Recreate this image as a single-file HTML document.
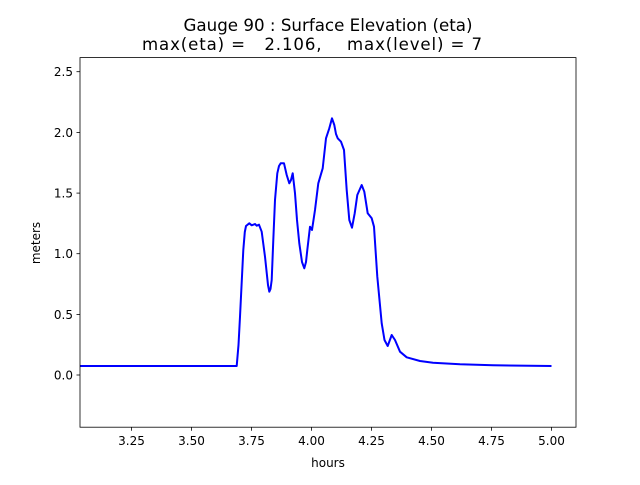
<!DOCTYPE html>
<html><head><meta charset="utf-8"><style>
body{margin:0;background:#fff}
svg text{font-family:"DejaVu Sans","Liberation Sans",sans-serif;fill:#000}
</style></head><body>
<svg width="640" height="480" viewBox="0 0 640 480" xmlns="http://www.w3.org/2000/svg">
<rect width="640" height="480" fill="#fff"/>
<text x="328" y="31" font-size="16.6" text-anchor="middle" textLength="289" lengthAdjust="spacingAndGlyphs">Gauge 90 : Surface Elevation (eta)</text>
<text x="312" y="50" font-size="16.6" text-anchor="middle" textLength="340" lengthAdjust="spacing">max(eta) = &#160; 2.106, &#160; &#160;max(level) = 7</text>
<g stroke="#000" stroke-width="0.8">
<line x1="80" y1="375" x2="76.5" y2="375"/><line x1="80" y1="314.4" x2="76.5" y2="314.4"/>
<line x1="80" y1="253.7" x2="76.5" y2="253.7"/><line x1="80" y1="193.1" x2="76.5" y2="193.1"/>
<line x1="80" y1="132.4" x2="76.5" y2="132.4"/><line x1="80" y1="71.7" x2="76.5" y2="71.7"/>
<line x1="131.5" y1="427.2" x2="131.5" y2="430.7"/><line x1="191.5" y1="427.2" x2="191.5" y2="430.7"/>
<line x1="251.5" y1="427.2" x2="251.5" y2="430.7"/><line x1="311.5" y1="427.2" x2="311.5" y2="430.7"/>
<line x1="371.5" y1="427.2" x2="371.5" y2="430.7"/><line x1="431.5" y1="427.2" x2="431.5" y2="430.7"/>
<line x1="491.5" y1="427.2" x2="491.5" y2="430.7"/><line x1="551.5" y1="427.2" x2="551.5" y2="430.7"/>
</g>
<g font-size="12" text-anchor="end">
<text x="73" y="379.5">0.0</text><text x="73" y="318.9">0.5</text><text x="73" y="258.2">1.0</text>
<text x="73" y="197.6">1.5</text><text x="73" y="136.9">2.0</text><text x="73" y="76.2">2.5</text>
</g>
<g font-size="12" text-anchor="middle">
<text x="131.5" y="445">3.25</text><text x="191.5" y="445">3.50</text><text x="251.5" y="445">3.75</text>
<text x="311.5" y="445">4.00</text><text x="371.5" y="445">4.25</text><text x="431.5" y="445">4.50</text>
<text x="491.5" y="445">4.75</text><text x="551.5" y="445">5.00</text>
<text x="328" y="467">hours</text>
</g>
<text transform="translate(40,243) rotate(-90)" font-size="12" text-anchor="middle">meters</text>
<polyline fill="none" stroke="#0000ff" stroke-width="2" stroke-linejoin="round" points="
80,366 236.7,366 238.5,345 240,316.7 243.3,250 244.8,232 246,226 249.3,223.3 251.7,225.3 255,224 256.7,225.7 259,224.7 261.7,231.7 265,256.7 268,285 269.3,291.7 270.5,289 271.7,280 273.3,240 275,200 277.3,173.3 279,166 280.7,163.3 284,163.3 286.7,175 289.3,183.3 291,180 292.7,173.3 295,193.3 297,220 299.3,243.3 302,262 304.3,268.3 306,262 307.3,250 310,226.7 312,230 315,210 318.3,183.3 322.7,168.3 326,138.3 329.3,128.3 332,118.3 334.3,125 336,134 337.7,138.3 341,141.7 344,150 346.7,190 349.3,220 352,227.7 354.7,213.3 357.3,195 361.7,185 364.3,191.7 367.7,213.3 371.7,218.3 374,226.7 377.3,276.7 381.7,323.3 384.5,340 387.7,346 391.7,335 395,340 400,351.7 406.7,357.3 420,361 433,362.7 460,364.3 493,365.3 551.5,366"/>
<rect x="80" y="57.6" width="496" height="369.6" fill="none" stroke="#000" stroke-width="0.8"/>
</svg>
</body></html>
